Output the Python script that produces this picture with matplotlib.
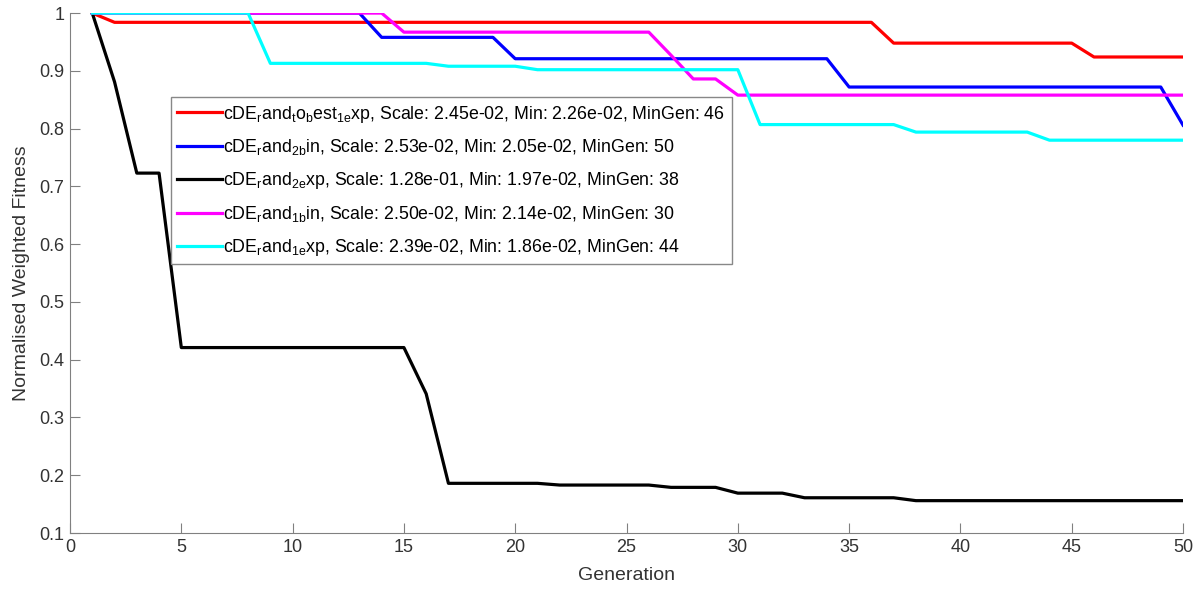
import matplotlib
matplotlib.use("Agg")
from matplotlib import pyplot as plt

plt.rcParams['font.family'] = ['Liberation Sans', 'DejaVu Sans']
plt.rcParams['mathtext.fontset'] = 'custom'
plt.rcParams['mathtext.rm'] = 'Liberation Sans'
plt.rcParams['mathtext.it'] = 'Liberation Sans'

generations = list(range(1, 51))

red = [1.0] + [0.984] * 35 + [0.948] * 9 + [0.924] * 5
blue = [1.0] * 13 + [0.958] * 6 + [0.921] * 15 + [0.872] * 15 + [0.806]
black = ([1.0, 0.881, 0.723, 0.723] + [0.421] * 11 + [0.341] + [0.186] * 5
         + [0.183] * 5 + [0.179] * 3 + [0.169] * 3 + [0.161] * 5 + [0.156] * 13)
magenta = [1.0] * 14 + [0.967] * 12 + [0.927, 0.886, 0.886] + [0.858] * 21
cyan = ([1.0] * 8 + [0.913] * 8 + [0.908] * 4 + [0.902] * 10 + [0.807] * 7
        + [0.794] * 6 + [0.780] * 7)

labels = [
    r'cDE$_{\rm r}$and$_{\rm t}$o$_{\rm b}$est$_{\rm 1e}$xp, Scale: 2.45e-02, Min: 2.26e-02, MinGen: 46',
    r'cDE$_{\rm r}$and$_{\rm 2b}$in, Scale: 2.53e-02, Min: 2.05e-02, MinGen: 50',
    r'cDE$_{\rm r}$and$_{\rm 2e}$xp, Scale: 1.28e-01, Min: 1.97e-02, MinGen: 38',
    r'cDE$_{\rm r}$and$_{\rm 1b}$in, Scale: 2.50e-02, Min: 2.14e-02, MinGen: 30',
    r'cDE$_{\rm r}$and$_{\rm 1e}$xp, Scale: 2.39e-02, Min: 1.86e-02, MinGen: 44',
]
colors = ['#ff0000', '#0000ff', '#000000', '#ff00ff', '#00ffff']
series = [red, blue, black, magenta, cyan]

fig = plt.figure(figsize=(12.03, 5.95), dpi=100)
ax = fig.add_axes([0.0582, 0.1042, 0.9252, 0.8738])

for s, c, lab in zip(series, colors, labels):
    ax.plot(generations, s, color=c, lw=2.3, label=lab)

ax.set_xlim(0, 50)
ax.set_ylim(0.1, 1)
ax.set_xticks(range(0, 51, 5))
yt = [0.1, 0.2, 0.3, 0.4, 0.5, 0.6, 0.7, 0.8, 0.9, 1.0]
ax.set_yticks(yt)
ax.set_yticklabels(['0.1', '0.2', '0.3', '0.4', '0.5', '0.6', '0.7', '0.8', '0.9', '1'])

for side in ['top', 'right']:
    ax.spines[side].set_visible(False)
for side in ['left', 'bottom']:
    ax.spines[side].set_color('#808080')
ax.tick_params(direction='in', colors='#808080', labelcolor='#333333', labelsize=13, length=7, pad=4)

ax.set_xlabel('Generation', fontsize=14, color='#333333', labelpad=8)
ax.set_ylabel('Normalised Weighted Fitness', fontsize=14, color='#333333', labelpad=7)

leg = ax.legend(loc='upper left', bbox_to_anchor=(0.0907, 0.838), borderaxespad=0,
                fontsize=12.8, fancybox=False, edgecolor='#888888', framealpha=1,
                handlelength=2.5, handletextpad=0.1, labelspacing=0.72, borderpad=0.35)
leg.get_frame().set_linewidth(1.0)

plt.savefig("out.png", dpi=100)
